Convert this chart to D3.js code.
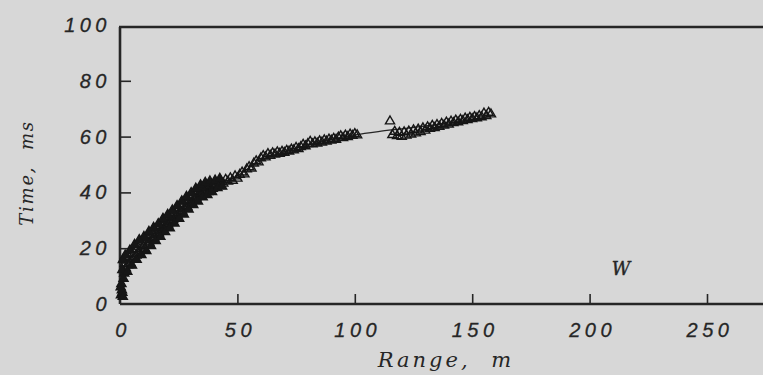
<!DOCTYPE html>
<html>
<head>
<meta charset="utf-8">
<script src="https://cdn.jsdelivr.net/npm/d3@7/dist/d3.min.js"></script>
<style>
  html, body { margin: 0; padding: 0; background: #d7d7d7; }
  svg { display: block; }
</style>
</head>
<body>
<svg id="chart" width="763" height="375"></svg>
<script>
// Travel time vs. range, station W
const xTicks = [0, 50, 100, 150, 200, 250];
const yTicks = [0, 20, 40, 60, 80, 100];

// Observed arrivals [range m, time ms]
const nearOrigin = [[0.4, 3.2], [0.8, 5.0], [1.0, 4.1], [0.3, 6.0], [1.2, 2.6], [0.6, 7.2], [1.5, 9.1], [1.8, 11.0], [1.0, 12.2]];
const steepLeg = [
  [2, 14.5], [2.5, 12.8], [3, 15.6], [3.4, 13.9], [4, 16.8], [4.5, 14.6], [5, 17.9], [5.5, 16.1],
  [6, 18.2], [6.6, 19.8], [7, 17.4], [7.5, 20.6], [8, 18.9], [8.6, 21.3], [9, 19.6], [9.5, 22.4],
  [10, 20.8], [10.6, 19.7], [11, 22.9], [11.5, 21.2], [12, 23.8], [12.5, 22.1], [13, 24.7], [13.6, 23.0],
  [14, 25.3], [14.5, 23.8], [15, 26.1], [15.5, 24.9], [16, 26.8], [16.6, 25.4], [17, 27.9], [17.5, 26.0],
  [18, 28.6], [18.5, 27.2], [19, 29.4], [19.6, 27.7], [20, 30.1], [20.5, 28.6], [21, 31.2], [21.5, 29.3],
  [22, 31.6], [22.6, 30.2], [23, 32.7], [23.5, 30.9], [24, 33.4], [24.5, 31.8], [25, 34.3], [25.6, 32.4],
  [26, 35.1], [26.5, 33.3], [27, 35.9], [27.5, 34.2], [28, 36.8], [28.6, 34.9], [29, 37.3], [29.5, 35.8],
  [30, 38.1], [30.5, 36.4], [31, 38.9], [31.6, 37.2], [32, 39.8], [32.5, 38.1], [33, 40.3], [33.5, 38.6],
  [34, 41.2], [34.6, 39.5], [35, 41.7], [35.5, 40.1], [36, 42.1], [36.5, 40.6], [37, 41.9], [37.6, 40.2],
  [38, 42.4], [38.5, 41.0], [39, 42.7], [39.5, 41.3], [40, 42.2], [41, 43.1], [42, 42.4], [43, 43.8]
];
// scattered arrivals along the edges of the steep leg
const steepSpread = [
  [1.2, 15.8], [2.2, 17.4], [3.1, 11.6], [4.2, 19.2], [5.1, 13.8], [6.2, 21.3], [7.1, 15.9], [8.2, 23.0],
  [9.1, 17.6], [10.2, 24.1], [11.2, 19.0], [12.3, 25.9], [13.2, 20.8], [14.3, 27.4], [15.2, 22.6], [16.3, 28.7],
  [17.2, 24.1], [18.3, 30.6], [19.2, 25.8], [20.3, 32.0], [21.2, 27.2], [22.3, 33.6], [23.2, 28.9], [24.3, 35.2],
  [25.2, 30.6], [26.3, 36.9], [27.2, 32.1], [28.3, 38.5], [29.2, 33.9], [30.3, 39.8], [31.2, 35.5], [32.3, 41.4],
  [33.2, 36.8], [34.3, 42.6], [35.2, 38.3], [36.3, 43.5], [37.2, 39.1], [38.3, 44.0], [39.2, 40.2], [40.5, 44.3],
  [41.5, 41.6], [42.5, 44.9], [43.5, 42.1]
];
const middleLeg = [
  [44, 43.2], [45, 44.6], [46, 43.9], [47, 45.1], [48, 44.2], [49, 45.8], [50, 45.0], [51, 46.4],
  [52, 47.2], [53, 46.5], [54, 48.3], [55, 49.1], [56, 48.6], [57, 50.4], [58, 51.2], [59, 50.8],
  [60, 52.3], [61, 53.1], [62, 52.6], [63, 53.8], [64, 53.2], [65, 54.1], [66, 53.6], [67, 54.4],
  [68, 53.9], [69, 54.6], [70, 54.2], [71, 55.0], [72, 54.7], [73, 55.4], [74, 55.1], [75, 56.0],
  [76, 55.6], [77, 56.3], [78, 57.1], [79, 56.6], [80, 57.4], [81, 58.2], [82, 57.3], [83, 58.0],
  [84, 57.6], [85, 58.4], [86, 57.9], [87, 58.7], [88, 58.3], [89, 59.0], [90, 58.6], [91, 59.3],
  [92, 58.9], [93, 59.7], [94, 60.2], [95, 59.5], [96, 60.4], [97, 59.9], [98, 60.8], [99, 60.3],
  [100, 61.0], [101, 60.5]
];
const farLeg = [
  [115, 65.5],
  [116, 60.6], [117, 61.8], [118, 60.2], [119, 61.4], [120, 60.0], [121, 61.6], [122, 60.4], [123, 61.9],
  [124, 60.8], [125, 62.3], [126, 61.2], [127, 62.6], [128, 61.7], [129, 63.0], [130, 62.2], [131, 63.4],
  [132, 62.8], [133, 63.9], [134, 63.1], [135, 64.2], [136, 63.6], [137, 64.6], [138, 64.0], [139, 65.1],
  [140, 64.4], [141, 65.4], [142, 64.9], [143, 65.8], [144, 65.2], [145, 66.1], [146, 65.6], [147, 66.5],
  [148, 66.0], [149, 66.8], [150, 66.3], [151, 67.1], [152, 66.6], [153, 67.4], [154, 67.0], [155, 68.3],
  [156, 67.4], [157, 68.6], [158, 68.0]
];

// Fitted travel-time curve
const fitRange = [0, 5, 10, 20, 30, 40, 50, 60, 70, 80, 90, 100, 110, 120, 130, 140, 150, 158];
const fitTime  = [12, 17, 21, 28, 35, 41, 46, 51.5, 54.5, 57, 59, 60.6, 61.8, 62.8, 63.8, 64.9, 66.2, 67.2];

const svg = d3.select("#chart");
const ink = "#262626";

const x = d3.scaleLinear().domain([0, 250]).range([120, 707]);
const y = d3.scaleLinear().domain([0, 100]).range([304, 25]);
const xEnd = 763;

// frame: left axis, bottom axis, top border
const frame = svg.append("g").attr("stroke", ink).attr("stroke-width", 2.6).attr("fill", "none");
frame.append("line").attr("x1", x(0)).attr("x2", xEnd).attr("y1", y(0)).attr("y2", y(0));
frame.append("line").attr("x1", x(0)).attr("x2", x(0)).attr("y1", y(0)).attr("y2", y(100) + 2);
frame.append("line").attr("x1", x(0) - 1).attr("x2", xEnd).attr("y1", y(100) + 2).attr("y2", y(100) + 2);

// inward ticks
const xAxis = d3.axisTop(x).tickValues(xTicks.filter(d => d > 0)).tickSize(10).tickFormat("");
svg.append("g").attr("transform", `translate(0,${y(0)})`).call(xAxis)
  .call(g => g.select(".domain").remove())
  .call(g => g.selectAll("line").attr("stroke", ink).attr("stroke-width", 1.6));
const yAxis = d3.axisRight(y).tickValues(yTicks.filter(d => d > 0 && d < 100)).tickSize(11).tickFormat("");
svg.append("g").attr("transform", `translate(${x(0)},0)`).call(yAxis)
  .call(g => g.select(".domain").remove())
  .call(g => g.selectAll("line").attr("stroke", ink).attr("stroke-width", 1.6));

// tick labels
const tickFont = "'Liberation Sans', Arial, sans-serif";
svg.append("g").selectAll("text").data(xTicks).join("text")
  .attr("x", d => x(d) + 3).attr("y", 337)
  .attr("text-anchor", "middle")
  .attr("font-family", tickFont).attr("font-style", "italic")
  .attr("font-size", 20).attr("letter-spacing", 4.5)
  .attr("fill", ink).attr("stroke", ink).attr("stroke-width", 0.3)
  .text(d => d);
svg.append("g").selectAll("text").data(yTicks).join("text")
  .attr("x", 111).attr("y", d => y(d) + 7)
  .attr("text-anchor", "end")
  .attr("font-family", tickFont).attr("font-style", "italic")
  .attr("font-size", 20).attr("letter-spacing", 4.5)
  .attr("fill", ink).attr("stroke", ink).attr("stroke-width", 0.3)
  .text(d => d);

// axis titles
const titleFont = "'DejaVu Serif', serif";
svg.append("text")
  .attr("x", 446).attr("y", 367)
  .attr("text-anchor", "middle")
  .attr("font-family", titleFont).attr("font-style", "italic")
  .attr("font-size", 21).attr("letter-spacing", 3).attr("word-spacing", 11)
  .attr("fill", ink)
  .text("Range, m");
svg.append("text")
  .attr("transform", "translate(33,173) rotate(-90)")
  .attr("text-anchor", "middle")
  .attr("font-family", titleFont).attr("font-style", "italic")
  .attr("font-size", 18).attr("letter-spacing", 1.8).attr("word-spacing", 8)
  .attr("fill", ink)
  .text("Time, ms");

svg.append("text")
  .attr("x", 621).attr("y", 275)
  .attr("text-anchor", "middle")
  .attr("font-family", titleFont).attr("font-style", "italic")
  .attr("font-size", 18)
  .attr("fill", ink).attr("stroke", ink).attr("stroke-width", 0.4)
  .text("W");

// fitted curve
const fit = fitRange.map((r, i) => [r, fitTime[i]]);
svg.append("path")
  .datum(fit)
  .attr("fill", "none").attr("stroke", ink).attr("stroke-width", 1.3)
  .attr("d", d3.line().x(d => x(d[0])).y(d => y(d[1])).curve(d3.curveMonotoneX));

// observations as open triangles
const tri = d3.symbol().type(d3.symbolTriangle).size(36);
const obs = [...nearOrigin, ...steepLeg, ...steepSpread, ...middleLeg, ...farLeg];
svg.append("g").selectAll("path").data(obs).join("path")
  .attr("transform", d => `translate(${x(d[0])},${y(d[1])})`)
  .attr("d", tri)
  .attr("fill", "none").attr("stroke", "#161616").attr("stroke-width", 1.4);
svg.append("g").selectAll("path").data([...nearOrigin, ...steepSpread]).join("path")
  .attr("transform", d => `translate(${x(d[0])},${y(d[1])})`)
  .attr("d", tri)
  .attr("fill", "#161616");
</script>
</body>
</html>
